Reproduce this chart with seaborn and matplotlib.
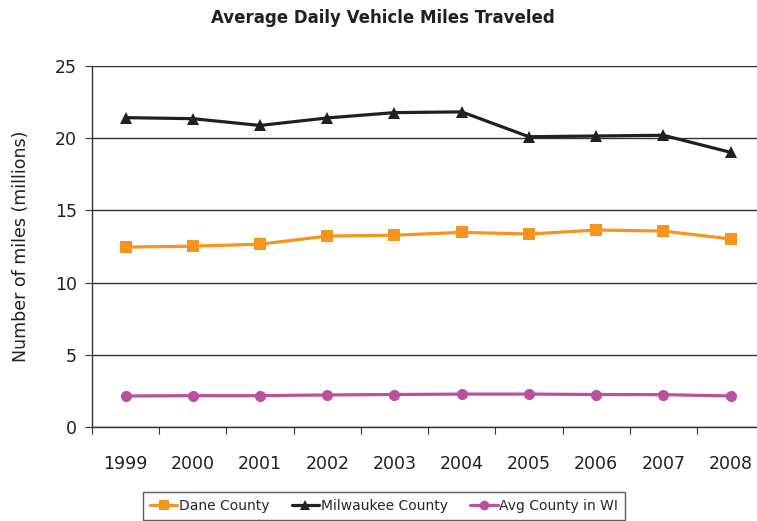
import numpy as np
import pandas as pd
import seaborn as sns
import matplotlib.pyplot as plt

# data (millions of miles)
years = [1999, 2000, 2001, 2002, 2003, 2004, 2005, 2006, 2007, 2008]
dane = [12.46, 12.52, 12.66, 13.22, 13.28, 13.48, 13.36, 13.64, 13.57, 13.02]
milwaukee = [21.42, 21.35, 20.88, 21.40, 21.77, 21.82, 20.10, 20.15, 20.20, 19.02]
avg_wi = [2.15, 2.17, 2.17, 2.22, 2.25, 2.28, 2.28, 2.25, 2.24, 2.15]
series_names = ['Dane County', 'Milwaukee County', 'Avg County in WI']
colors = ['#F7941D', '#231F20', '#B9519E']
markers = ['s', '^', 'o']

df = pd.DataFrame({'Year': years * 3,
                   'Miles': dane + milwaukee + avg_wi,
                   'Series': [s for s in series_names for _ in years]})

sns.set_style('white')
plt.rcParams['font.family'] = ['DejaVu Sans']

fig = plt.figure(figsize=(7.57, 5.21), dpi=100)
ax = fig.add_axes([0.1215, 0.1804, 0.888, 0.693])

sns.lineplot(data=df, x='Year', y='Miles', hue='Series', style='Series',
             palette=colors, markers=markers, dashes=False, linewidth=2.3,
             markersize=8, markeredgewidth=0, ax=ax, legend=False)

ax.set_ylim(0, 25)
ax.set_yticks(np.arange(0, 26, 5))
ax.yaxis.grid(True, color='#333333', linewidth=1)
ax.set_axisbelow(True)
ax.set_xlim(1998.5, 2008.5)
ax.set_xticks(np.arange(1998.5, 2009, 1))
ax.set_xticklabels([])
ax.set_xticks(years, minor=True)
ax.set_xticklabels([str(y) for y in years], minor=True)
ax.tick_params(axis='x', which='major', direction='out', length=5, color='#333333', bottom=True)
ax.tick_params(axis='x', which='minor', length=0, pad=20, labelsize=12.5, labelcolor='#231F20')
ax.tick_params(axis='y', direction='out', length=5, color='#333333', left=True, labelsize=12.5, labelcolor='#231F20', pad=6)
for s in ['top', 'right']:
    ax.spines[s].set_visible(False)
for s in ['left', 'bottom']:
    ax.spines[s].set_color('#333333')
    ax.spines[s].set_linewidth(1)

ax.set_xlabel('')
ax.set_ylabel('Number of miles (millions)', fontsize=12.5, color='#231F20', labelpad=18)
fig.text(0.506, 0.965, 'Average Daily Vehicle Miles Traveled', ha='center', va='center',
         fontsize=12, fontweight='bold', color='#231F20')

handles = [plt.Line2D([], [], color=c, marker=m, linewidth=2.3, markersize=7, markeredgewidth=0)
           for c, m in zip(colors, markers)]
leg = fig.legend(handles, series_names, loc='upper center', bbox_to_anchor=(0.507, 0.056),
                 ncol=3, frameon=True, fancybox=False, fontsize=10, handlelength=2.0,
                 handletextpad=0.1, columnspacing=1.6, borderpad=0.5, borderaxespad=0)
leg.get_frame().set_edgecolor('#333333')
leg.get_frame().set_linewidth(1)

fig.savefig('out.png', dpi=100)
